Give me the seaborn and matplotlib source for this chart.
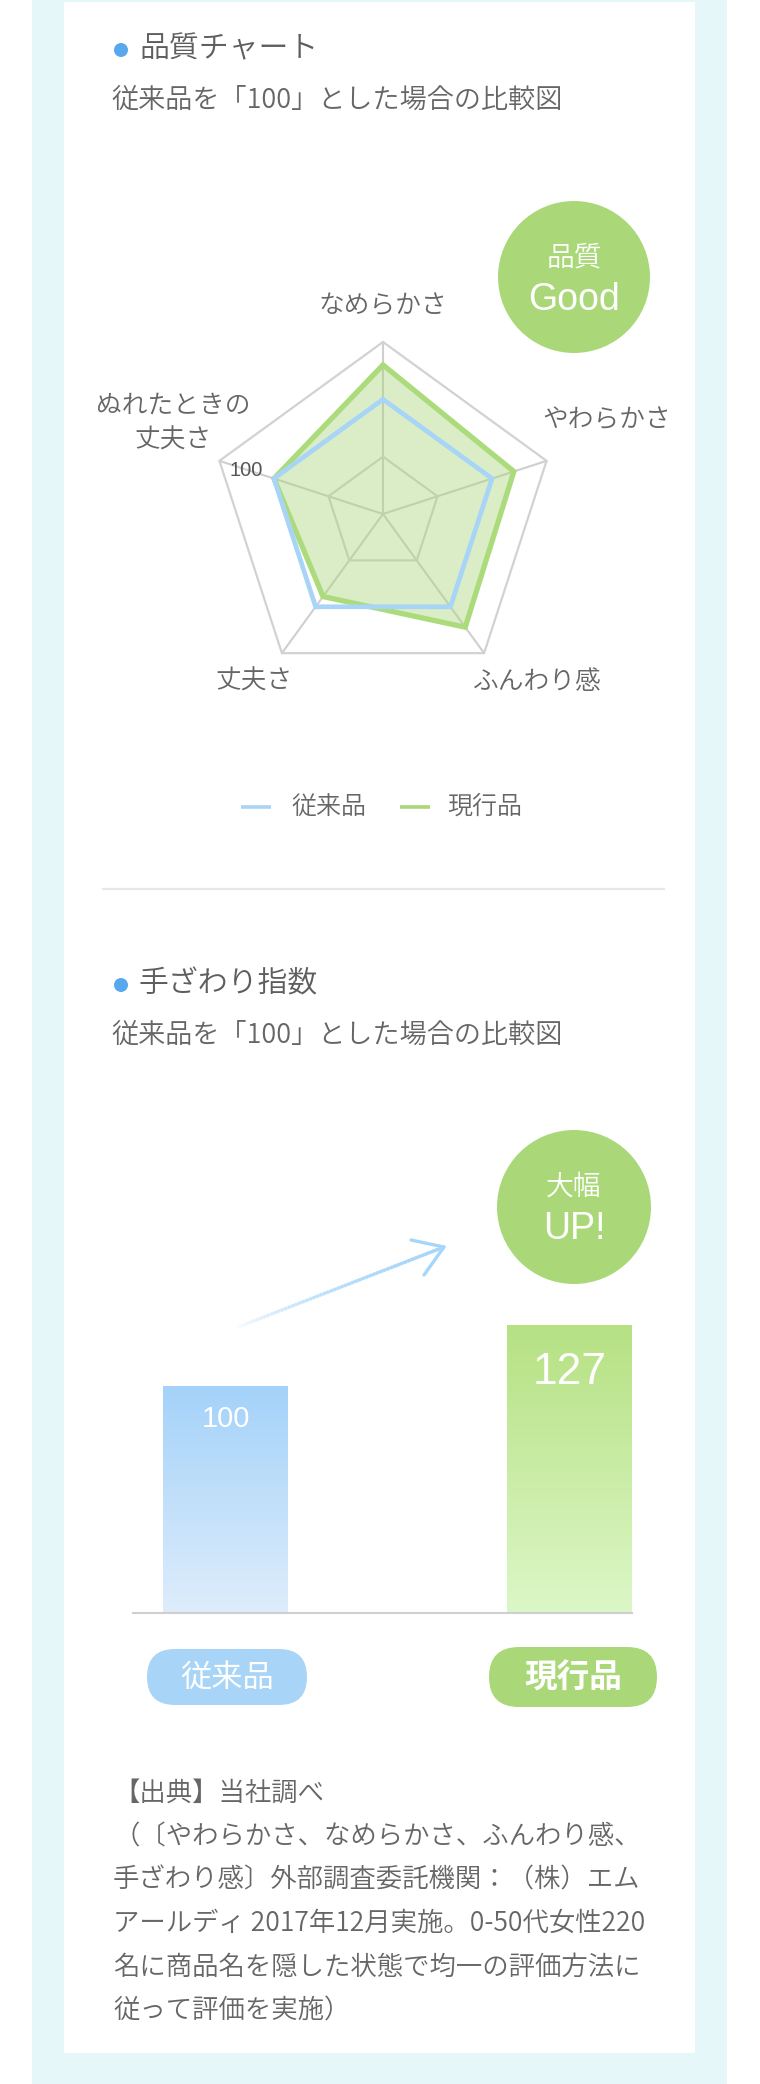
import numpy as np
import matplotlib
matplotlib.use("Agg")
import matplotlib.pyplot as plt
import seaborn as sns
from matplotlib.patches import Rectangle, Circle, FancyBboxPatch
from matplotlib.collections import LineCollection
from matplotlib.colors import LinearSegmentedColormap, to_rgba

# ---- data ----
radar_labels = ["なめらかさ", "やわらかさ", "ふんわり感", "丈夫さ", "ぬれたときの\n丈夫さ"]
old_scores = [100, 100, 100, 100, 100]
new_scores = [130, 120, 122, 89, 100]
radar_max = 150
radar_rings = [50, 150]

bar_labels = ["従来品", "現行品"]
bar_values = [100, 127]

footnote = [
    "【出典】当社調べ",
    "（〔やわらかさ、なめらかさ、ふんわり感、",
    "手ざわり感〕外部調査委託機関：（株）エム",
    "アールディ 2017年12月実施。0-50代女性220",
    "名に商品名を隠した状態で均一の評価方法に",
    "従って評価を実施）",
]

# ---- colours ----
GRAY_TXT = "#666666"
BLUE = "#a8d5f7"
GREEN = "#aad879"
DOT = "#58a8ee"
FRAME = "#e5f7f8"

W, H = 760, 2084
sns.set_theme(style="white")
plt.rcParams["font.family"] = ["Noto Sans CJK JP", "DejaVu Sans"]
plt.rcParams["font.weight"] = 350
LATIN = ["Liberation Sans", "DejaVu Sans"]

fig = plt.figure(figsize=(W / 100, H / 100), dpi=100)
fig.patch.set_facecolor("white")


def px_rect(left, top, w, h):
    return [left / W, 1 - (top + h) / H, w / W, h / H]


bg = fig.add_axes([0, 0, 1, 1], zorder=0)
bg.set_xlim(0, W)
bg.set_ylim(H, 0)
bg.axis("off")
bg.add_patch(Rectangle((32, 0), 695, H, color=FRAME, lw=0))
bg.add_patch(Rectangle((64, 2), 631, 2051, color="white", lw=0))

fg = fig.add_axes([0, 0, 1, 1], zorder=10)
fg.set_xlim(0, W)
fg.set_ylim(H, 0)
fg.axis("off")


def heading(y, title, sub):
    fg.add_patch(Circle((121, y + 1), 7, color=DOT, lw=0))
    fg.text(139, y, title, fontsize=21.5, color="#5e5e5e", va="center", ha="left")
    fg.text(111, y + 51, sub, fontsize=19.5, color=GRAY_TXT, va="center", ha="left")


# ---- section 1 : radar ----
heading(49, "品質チャート", "従来品を「100」とした場合の比較図")

R_PX = 172
cx, cy = 383, 514
half = 200
rax = fig.add_axes(px_rect(cx - half, cy - half, 2 * half, 2 * half), zorder=2)
lim = half / R_PX * radar_max
rax.set_xlim(-lim, lim)
rax.set_ylim(-lim, lim)
rax.set_aspect("equal")
rax.axis("off")

theta = np.deg2rad(90 - 72 * np.arange(len(radar_labels)))


def to_xy(vals):
    v = np.asarray(vals, dtype=float)
    x = v * np.cos(theta)
    y = v * np.sin(theta)
    return np.append(x, x[0]), np.append(y, y[0])


for t in theta:
    rax.plot([0, radar_max * np.cos(t)], [0, radar_max * np.sin(t)], color="#cfcfcf", lw=1.5, zorder=1)
for r in radar_rings:
    x, y = to_xy([r] * len(theta))
    rax.plot(x, y, color="#d2d2d2", lw=1.6, zorder=1)

gx, gy = to_xy(new_scores)
rax.fill(gx, gy, color="#a9d67a", alpha=0.42, lw=0, zorder=2)
rax.plot(gx, gy, color="#acdb7c", lw=3.8, solid_joinstyle="miter", zorder=3)
bx, by = to_xy(old_scores)
rax.plot(bx, by, color=BLUE, lw=3.4, solid_joinstyle="miter", zorder=4)

label_pos = [(383, 306), (607, 420), (537, 682), (254, 682), (173, 423)]
for (lx, ly), lab in zip(label_pos, radar_labels):
    fg.text(lx, ly, lab, fontsize=18.5, color=GRAY_TXT, ha="center", va="center", linespacing=1.45)
fg.text(246, 471, "100", fontsize=14.5, color="#555555", ha="center", va="center", family=LATIN)

# badge
fg.add_patch(Circle((574, 277), 76, color=GREEN, lw=0))
fg.text(574, 257, "品質", fontsize=20, color="white", ha="center", va="center")
fg.text(574, 300, "Good", fontsize=27, color="white", ha="center", va="center", family=LATIN)

# legend
fg.plot([241, 271], [807, 807], color=BLUE, lw=2.6, solid_capstyle="butt")
fg.text(291, 807, "従来品", fontsize=18, color=GRAY_TXT, va="center", ha="left")
fg.plot([400, 430], [807, 807], color=GREEN, lw=2.6, solid_capstyle="butt")
fg.text(447, 807, "現行品", fontsize=18, color=GRAY_TXT, va="center", ha="left")

# divider
fg.plot([103, 664], [889, 889], color="#e6e6e6", lw=1.6)

# ---- section 2 : bars ----
heading(984, "手ざわり指数", "従来品を「100」とした場合の比較図")

base_y, top_y = 1613, 1100
bl, br = 133, 632
bax = fig.add_axes(px_rect(bl, top_y, br - bl, base_y - top_y), zorder=2)
bax.set_facecolor("none")
sns.barplot(x=bar_labels, y=bar_values, hue=bar_labels, palette=[BLUE, GREEN],
            width=0.363, legend=False, ax=bax)
xlim = (-0.27, 1.182)
ylim = (0, (base_y - top_y) / 2.27)
grads = [("#a4d2f9", "#deedfb"), ("#b6e183", "#dcf7c7")]
for patch, (c_top, c_bot) in zip(bax.patches, grads):
    x0, y0 = patch.get_x(), patch.get_y()
    w, h = patch.get_width(), patch.get_height()
    cmap = LinearSegmentedColormap.from_list("g", [c_bot, c_top])
    img = bax.imshow(np.linspace(0, 1, 256).reshape(-1, 1), extent=[x0, x0 + w, y0, y0 + h],
                     origin="lower", cmap=cmap, aspect="auto", zorder=patch.get_zorder())
    img.set_clip_path(patch)
    patch.set_facecolor("none")
    patch.set_edgecolor("none")
bax.set_xlim(*xlim)
bax.set_ylim(*ylim)
bax.set_xticks([])
bax.set_yticks([])
bax.set_xlabel("")
bax.set_ylabel("")
for s in ["top", "left", "right"]:
    bax.spines[s].set_visible(False)
bax.spines["bottom"].set_color("#cfcfcf")
bax.spines["bottom"].set_linewidth(1.5)

sizes = [21, 32]
offsets = [-33, -48]
for i, v in enumerate(bar_values):
    bax.annotate(str(v), (i, v), xytext=(0, offsets[i] * 0.72), textcoords="offset points",
                 ha="center", va="center", color="white", fontsize=sizes[i], family=LATIN)

# arrow with fading tail
p0 = np.array([233, 1329])
p1 = np.array([444, 1247])
n = 60
pts = p0 + np.linspace(0, 1, n + 1)[:, None] * (p1 - p0)
segs = np.stack([pts[:-1], pts[1:]], axis=1)
cols = [to_rgba("#a6d6fa", a) for a in np.linspace(0, 1, n) ** 0.8]
fg.add_collection(LineCollection(segs, colors=cols, linewidths=2.4, capstyle="round"))
fg.plot([411, 444, 424], [1240, 1247, 1275], color="#a6d6fa", lw=2.4,
        solid_capstyle="round", solid_joinstyle="round")

# badge
fg.add_patch(Circle((574, 1207), 77, color=GREEN, lw=0))
fg.text(574, 1187, "大幅", fontsize=20, color="white", ha="center", va="center")
fg.text(574, 1229, "UP!", fontsize=27, color="white", ha="center", va="center", family=LATIN)

# pills
pills = [(227, 160, 56, BLUE, "normal", 22.5), (573, 168, 60, GREEN, "bold", 23.5)]
for (px, pw, ph, col, wt, fs), lab in zip(pills, bar_labels):
    fg.add_patch(FancyBboxPatch((px - pw / 2, 1677 - ph / 2), pw, ph,
                                boxstyle=f"round,pad=0,rounding_size={ph / 2}", color=col, lw=0))
    fg.text(px, 1678, lab, fontsize=fs, color="white", ha="center", va="center", fontweight=wt)

# footnote
for k, line in enumerate(footnote):
    fg.text(113, 1793 + 43.6 * k, line, fontsize=19, color=GRAY_TXT, ha="left", va="center")

fig.savefig("out.png", dpi=100)
